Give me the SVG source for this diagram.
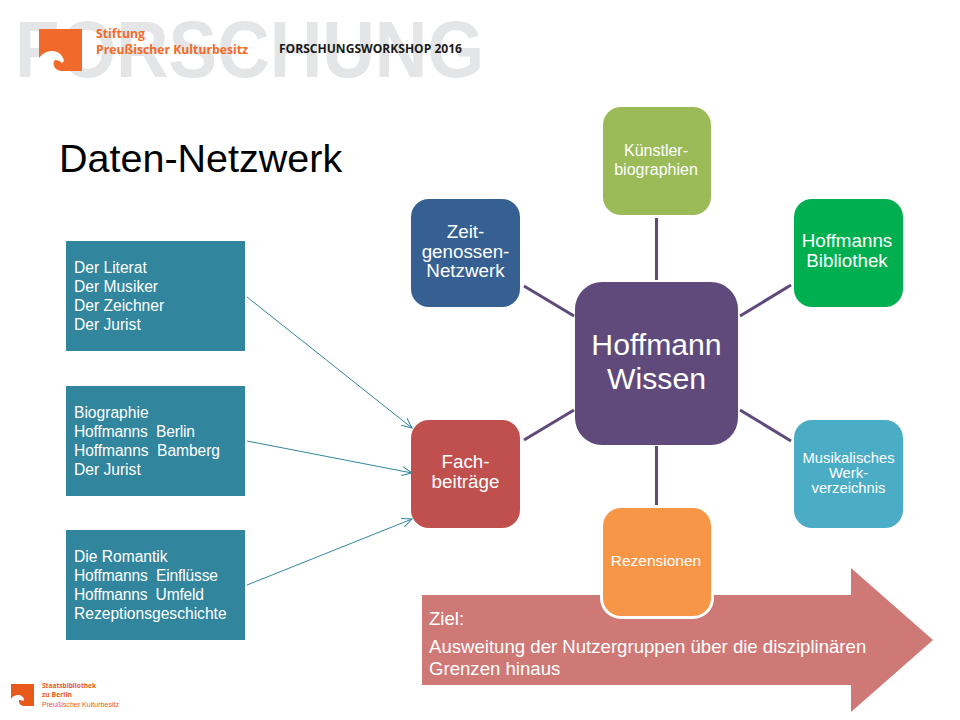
<svg xmlns="http://www.w3.org/2000/svg" width="960" height="720" viewBox="0 0 960 720">
<defs>
<marker id="arr" markerWidth="14" markerHeight="12" refX="11" refY="6" orient="auto" markerUnits="userSpaceOnUse"><path d="M1 1.500 L11 6 L1 10.500" fill="none" stroke="#31859c" stroke-width="1"/></marker>
</defs>
<style>
text{font-family:"Liberation Sans",Arial,sans-serif}
text.hdr{font-family:"Open Sans","Liberation Sans",sans-serif;font-weight:bold}
.w{fill:#fff;text-anchor:middle}
.l{fill:#fff;font-size:15.600px}
.box{fill:#31859c}
.spoke{stroke:#604a7b;stroke-width:3;fill:none}
.conn{stroke:#31859c;stroke-width:1;fill:none;marker-end:url(#arr)}
</style>
<rect width="960" height="720" fill="#fff"/>
<g id="header">
<text x="15" y="77" font-size="80" font-weight="bold" fill="#e4e5e7" textLength="469" lengthAdjust="spacingAndGlyphs">FORSCHUNG</text>
<rect x="39" y="29" width="43" height="42" fill="#f26a2b"/>
<path d="M39 58 C43 53 47 51 52 51 C58 51 63 55 64 61 L62 63 C60 61 58 60 55 60 C53 62 53 65 55 68 C57 70 59 71 62 71 H39 Z" fill="#fff"/>
<text class="hdr" x="96" y="38" font-size="12.500" fill="#f26a2b" textLength="49" lengthAdjust="spacingAndGlyphs">Stiftung</text>
<text class="hdr" x="96" y="54" font-size="12.500" fill="#f26a2b" textLength="152" lengthAdjust="spacingAndGlyphs">Preußischer Kulturbesitz</text>
<text class="hdr" x="279" y="53" font-size="12" fill="#1a1a1a" textLength="183" lengthAdjust="spacingAndGlyphs">FORSCHUNGSWORKSHOP 2016</text>
</g>
<g id="footer">
<rect x="11" y="684" width="23" height="22" fill="#e8591c"/>
<path d="M11 699 C13 696 15 695 18 695 C21 695 24 697 24 700 L23 701 C22 700 21 700 19 700 C19 702 19 704 21 705 L23 706 H11 Z" fill="#fff"/>
<text class="hdr" x="42" y="688" font-size="7" fill="#e8591c" textLength="54" lengthAdjust="spacingAndGlyphs">Staatsbibliothek</text>
<text class="hdr" x="42" y="697" font-size="7" fill="#e8591c" textLength="30" lengthAdjust="spacingAndGlyphs">zu Berlin</text>
<text x="42" y="707" font-size="7" fill="#e8591c" textLength="77" lengthAdjust="spacingAndGlyphs">Preußischer Kulturbesitz</text>
</g>
<text id="title" x="59" y="172" font-size="39.500" fill="#000">Daten-Netzwerk</text>
<g id="goal-arrow">
<path d="M422 595 H851 V568 L933 640 L851 712 V685 H422 Z" fill="#cf7977"/>
<text x="429" y="625" font-size="18.600" fill="#fff">Ziel:</text>
<text x="429" y="653" font-size="18.600" fill="#fff">Ausweitung der Nutzergruppen über die disziplinären</text>
<text x="429" y="675" font-size="18.600" fill="#fff">Grenzen hinaus</text>
</g>
<g id="connectors">
<path class="spoke" d="M656.500 280 V218"/>
<path class="spoke" d="M574 316 L524 286"/>
<path class="spoke" d="M740 316 L791 285"/>
<path class="spoke" d="M574 410 L524 440"/>
<path class="spoke" d="M740 410 L791 441"/>
<path class="spoke" d="M656.500 446 V505"/>
<path class="conn" d="M247 297 L412 428"/>
<path class="conn" d="M247 441 L412 473"/>
<path class="conn" d="M247 585 L412 519"/>
</g>
<g id="hub"><rect x="575" y="282" width="163" height="163" rx="27" fill="#604a7b"/>
<text class="w" font-size="30.200"><tspan x="656.500" y="355">Hoffmann</tspan><tspan x="656.500" y="389">Wissen</tspan></text></g>
<g id="kuenstler"><rect x="603" y="107" width="108" height="108" rx="18" fill="#9bbb59"/>
<text class="w" font-size="16"><tspan x="656" y="156">Künstler-</tspan><tspan x="656" y="175">biographien</tspan></text></g>
<g id="zeitgenossen"><rect x="411" y="199" width="109" height="108" rx="18" fill="#376092"/>
<text class="w" font-size="18.800"><tspan x="465.500" y="238">Zeit-</tspan><tspan x="465.500" y="258">genossen-</tspan><tspan x="465.500" y="277">Netzwerk</tspan></text></g>
<g id="bibliothek"><rect x="794" y="199" width="109" height="108" rx="18" fill="#00b050"/>
<text class="w" font-size="18.800"><tspan x="847" y="247">Hoffmanns</tspan><tspan x="847" y="267">Bibliothek</tspan></text></g>
<g id="fachbeitraege"><rect x="411" y="420" width="109" height="108" rx="18" fill="#c0504d"/>
<text class="w" font-size="18.800"><tspan x="465.500" y="468">Fach-</tspan><tspan x="465.500" y="488">beiträge</tspan></text></g>
<g id="werkverzeichnis"><rect x="794" y="420" width="109" height="108" rx="18" fill="#4bacc6"/>
<text class="w" font-size="14.800"><tspan x="848.500" y="463">Musikalisches</tspan><tspan x="848.500" y="478">Werk-</tspan><tspan x="848.500" y="493">verzeichnis</tspan></text></g>
<g id="rezensionen"><rect x="603" y="508" width="108" height="108" rx="18" fill="#fff" stroke="#fff" stroke-width="6"/><rect x="603" y="508" width="108" height="108" rx="18" fill="#f79646"/>
<text class="w" font-size="15.500" x="656" y="566">Rezensionen</text></g>
<g id="box1"><rect class="box" x="66" y="241" width="179" height="110"/>
<text class="l"><tspan x="74" y="273">Der Literat</tspan><tspan x="74" y="292">Der Musiker</tspan><tspan x="74" y="311">Der Zeichner</tspan><tspan x="74" y="330">Der Jurist</tspan></text></g>
<g id="box2"><rect class="box" x="66" y="386" width="179" height="110"/>
<text class="l" xml:space="preserve"><tspan x="74" y="418">Biographie</tspan><tspan x="74" y="437" textLength="121">Hoffmanns  Berlin</tspan><tspan x="74" y="456" textLength="146">Hoffmanns  Bamberg</tspan><tspan x="74" y="475">Der Jurist</tspan></text></g>
<g id="box3"><rect class="box" x="66" y="530" width="179" height="110"/>
<text class="l" xml:space="preserve"><tspan x="74" y="562">Die Romantik</tspan><tspan x="74" y="581" textLength="144">Hoffmanns  Einflüsse</tspan><tspan x="74" y="600" textLength="130">Hoffmanns  Umfeld</tspan><tspan x="74" y="619">Rezeptionsgeschichte</tspan></text></g>
</svg>
